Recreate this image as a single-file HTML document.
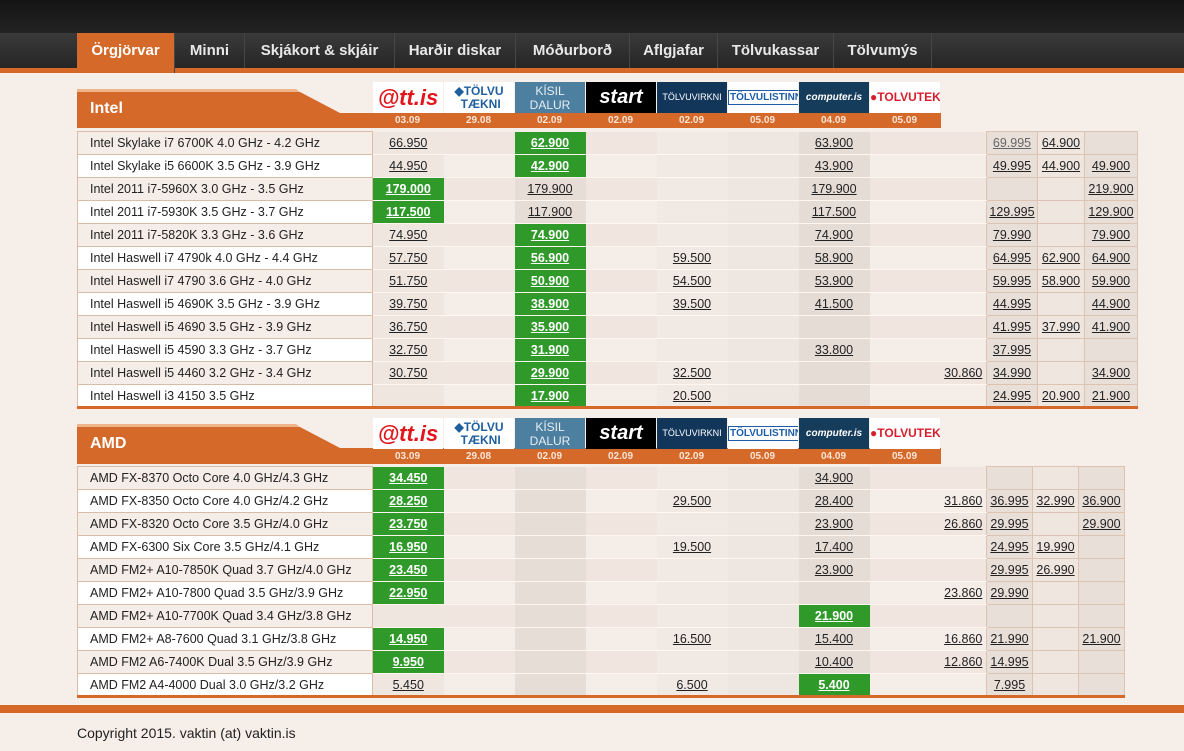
<!DOCTYPE html>
<html><head><meta charset="utf-8">
<style>
*{margin:0;padding:0;box-sizing:border-box}
body{width:1184px;height:751px;overflow:hidden;background:#f6eee8;font-family:"Liberation Sans",sans-serif;position:relative}
#top{position:absolute;left:0;top:0;width:1184px;height:33px;background:linear-gradient(#141414,#232323)}
#nav{position:absolute;left:0;top:33px;width:1184px;height:35px;background:linear-gradient(#3a3a3a,#262626)}
#navline{position:absolute;left:0;top:68px;width:1184px;height:5px;background:#d4692a}
.tab{position:absolute;top:33px;height:35px;line-height:36px;color:#e8e8e8;font-weight:bold;font-size:15px;text-align:center;border-right:1px solid #474747}
.tab.on{background:#d4692a;color:#fff;height:40px}
.logo{position:absolute;height:31px;width:70px;font-weight:bold;text-align:center;overflow:hidden;font-size:11px;line-height:31px}
.date{position:absolute;width:71px;text-align:center;color:#fbe5d6;font-size:10px;font-weight:bold;line-height:15px}
table{position:absolute;border-collapse:collapse;table-layout:fixed;font-size:12.5px;color:#222}
td{height:23px;text-align:center;padding:0;white-space:nowrap;border-bottom:1px solid #fff6f0}
td.n{text-align:left;padding-left:12px;background:#f5ede7;border:1px solid #d9bca8}
tr:nth-child(even) td.n{background:#fff}
td u{color:#222}
td.g{background:#2f9a2a;color:#fff;font-weight:bold}
td.g u{color:#fff}
.c1{background:#efe6e0}.c2{background:#f4ede8}.c3{background:#e7ddd7}.c4{background:#f4ede8}.c5{background:#f1e9e3}.c6{background:#eee6e0}.c7{background:#e5dcd6}.c8{background:#f4ede8}.c9{background:#f4ede8}
td.x{border:1px solid #dcc3b2;background:#efe6e0}
td.x.d{background:#e8dfd9}
tr:nth-child(odd) td.c2,tr:nth-child(odd) td.c4,tr:nth-child(odd) td.c8,tr:nth-child(odd) td.c9{background:#f0e6df}
tbody tr:last-child td{border-bottom:3px solid #d4692a}
#foot{position:absolute;left:0;top:705px;width:1184px;height:8px;background:#d4692a}
#copy{position:absolute;left:77px;top:725px;font-size:14px;color:#222}
</style></head><body>
<div id="top"></div><div id="nav"></div><div id="navline"></div>
<div class="tab on" style="left:77px;width:98px">Örgjörvar</div>
<div class="tab" style="left:175px;width:70px">Minni</div>
<div class="tab" style="left:245px;width:150px">Skjákort &amp; skjáir</div>
<div class="tab" style="left:395px;width:121px">Harðir diskar</div>
<div class="tab" style="left:516px;width:114px">Móðurborð</div>
<div class="tab" style="left:630px;width:88px">Aflgjafar</div>
<div class="tab" style="left:718px;width:116px">Tölvukassar</div>
<div class="tab" style="left:834px;width:98px">Tölvumýs</div>

<svg style="position:absolute;left:0;top:0" width="1184" height="751">
<polygon points="77,89 296,89 300,92 77,92" fill="#f0b48a"/>
<polygon points="77,92 300,92 340,113 941,113 941,128 77,128" fill="#d4692a"/>
<polygon points="77,424 296,424 300,427 77,427" fill="#f0b48a"/>
<polygon points="77,427 300,427 340,448 941,448 941,464 77,464" fill="#d4692a"/>
</svg>
<div style="position:absolute;left:90px;top:100px;color:#fff;font-weight:bold;font-size:16px">Intel</div>
<div style="position:absolute;left:90px;top:435px;color:#fff;font-weight:bold;font-size:16px">AMD</div>

<div class="logo" style="left:373px;top:82px;background:#fff;color:#e0161c;font-size:22px;font-style:italic">@tt.is</div>
<div class="logo" style="left:444px;top:82px;background:#fff;color:#1f5f9e;font-size:12px;line-height:13px;padding-top:3px">◆TÖLVU<br>&nbsp;TÆKNI</div>
<div class="logo" style="left:515px;top:82px;background:#4d7fa0;color:#e6eef4;font-size:12px;line-height:14px;padding-top:2px;font-weight:normal">KÍSIL<br>DALUR</div>
<div class="logo" style="left:586px;top:82px;background:#000;color:#fff;font-size:20px;font-style:italic">start</div>
<div class="logo" style="left:657px;top:82px;background:#12365a;color:#fff;font-size:9px;font-weight:normal">TÖLVUVIRKNI</div>
<div class="logo" style="left:728px;top:82px;background:#fff;color:#1c5ca8;font-size:10px"><span style="border:1px solid #1c5ca8;padding:1px">TÖLVULISTINN</span></div>
<div class="logo" style="left:799px;top:82px;background:#153c5a;color:#fff;font-size:10px;font-style:italic">computer.is</div>
<div class="logo" style="left:870px;top:82px;background:#fff;color:#d81e2a;font-size:12px">●TOLVUTEK</div>
<div class="date" style="left:372px;top:113px">03.09</div><div class="date" style="left:443px;top:113px">29.08</div><div class="date" style="left:514px;top:113px">02.09</div><div class="date" style="left:585px;top:113px">02.09</div><div class="date" style="left:656px;top:113px">02.09</div><div class="date" style="left:727px;top:113px">05.09</div><div class="date" style="left:798px;top:113px">04.09</div><div class="date" style="left:869px;top:113px">05.09</div>

<div class="logo" style="left:373px;top:418px;background:#fff;color:#e0161c;font-size:22px;font-style:italic">@tt.is</div>
<div class="logo" style="left:444px;top:418px;background:#fff;color:#1f5f9e;font-size:12px;line-height:13px;padding-top:3px">◆TÖLVU<br>&nbsp;TÆKNI</div>
<div class="logo" style="left:515px;top:418px;background:#4d7fa0;color:#e6eef4;font-size:12px;line-height:14px;padding-top:2px;font-weight:normal">KÍSIL<br>DALUR</div>
<div class="logo" style="left:586px;top:418px;background:#000;color:#fff;font-size:20px;font-style:italic">start</div>
<div class="logo" style="left:657px;top:418px;background:#12365a;color:#fff;font-size:9px;font-weight:normal">TÖLVUVIRKNI</div>
<div class="logo" style="left:728px;top:418px;background:#fff;color:#1c5ca8;font-size:10px"><span style="border:1px solid #1c5ca8;padding:1px">TÖLVULISTINN</span></div>
<div class="logo" style="left:799px;top:418px;background:#153c5a;color:#fff;font-size:10px;font-style:italic">computer.is</div>
<div class="logo" style="left:870px;top:418px;background:#fff;color:#d81e2a;font-size:12px">●TOLVUTEK</div>
<div class="date" style="left:372px;top:449px">03.09</div><div class="date" style="left:443px;top:449px">29.08</div><div class="date" style="left:514px;top:449px">02.09</div><div class="date" style="left:585px;top:449px">02.09</div><div class="date" style="left:656px;top:449px">02.09</div><div class="date" style="left:727px;top:449px">05.09</div><div class="date" style="left:798px;top:449px">04.09</div><div class="date" style="left:869px;top:449px">05.09</div>

<table style="left:77px;top:131px;width:1061px">
<colgroup><col style="width:295px"><col style="width:71px"><col style="width:71px"><col style="width:71px"><col style="width:71px"><col style="width:71px"><col style="width:71px"><col style="width:71px"><col style="width:71px"><col style="width:46px"><col style="width:51px"><col style="width:47px"><col style="width:53px"></colgroup>
<tbody>
<tr><td class="n">Intel Skylake i7 6700K 4.0 GHz - 4.2 GHz</td><td class="c1"><u>66.950</u></td><td class="c2"></td><td class="g"><u>62.900</u></td><td class="c4"></td><td class="c5"></td><td class="c6"></td><td class="c7"><u>63.900</u></td><td class="c8"></td><td class="c9"></td><td class="x d"><u style="color:#666">69.995</u></td><td class="x"><u>64.900</u></td><td class="x d"></td></tr>
<tr><td class="n">Intel Skylake i5 6600K 3.5 GHz - 3.9 GHz</td><td class="c1"><u>44.950</u></td><td class="c2"></td><td class="g"><u>42.900</u></td><td class="c4"></td><td class="c5"></td><td class="c6"></td><td class="c7"><u>43.900</u></td><td class="c8"></td><td class="c9"></td><td class="x d"><u>49.995</u></td><td class="x"><u>44.900</u></td><td class="x d"><u>49.900</u></td></tr>
<tr><td class="n">Intel 2011 i7-5960X 3.0 GHz - 3.5 GHz</td><td class="g"><u>179.000</u></td><td class="c2"></td><td class="c3"><u>179.900</u></td><td class="c4"></td><td class="c5"></td><td class="c6"></td><td class="c7"><u>179.900</u></td><td class="c8"></td><td class="c9"></td><td class="x d"></td><td class="x"></td><td class="x d"><u>219.900</u></td></tr>
<tr><td class="n">Intel 2011 i7-5930K 3.5 GHz - 3.7 GHz</td><td class="g"><u>117.500</u></td><td class="c2"></td><td class="c3"><u>117.900</u></td><td class="c4"></td><td class="c5"></td><td class="c6"></td><td class="c7"><u>117.500</u></td><td class="c8"></td><td class="c9"></td><td class="x d"><u>129.995</u></td><td class="x"></td><td class="x d"><u>129.900</u></td></tr>
<tr><td class="n">Intel 2011 i7-5820K 3.3 GHz - 3.6 GHz</td><td class="c1"><u>74.950</u></td><td class="c2"></td><td class="g"><u>74.900</u></td><td class="c4"></td><td class="c5"></td><td class="c6"></td><td class="c7"><u>74.900</u></td><td class="c8"></td><td class="c9"></td><td class="x d"><u>79.990</u></td><td class="x"></td><td class="x d"><u>79.900</u></td></tr>
<tr><td class="n">Intel Haswell i7 4790k 4.0 GHz - 4.4 GHz</td><td class="c1"><u>57.750</u></td><td class="c2"></td><td class="g"><u>56.900</u></td><td class="c4"></td><td class="c5"><u>59.500</u></td><td class="c6"></td><td class="c7"><u>58.900</u></td><td class="c8"></td><td class="c9"></td><td class="x d"><u>64.995</u></td><td class="x"><u>62.900</u></td><td class="x d"><u>64.900</u></td></tr>
<tr><td class="n">Intel Haswell i7 4790 3.6 GHz - 4.0 GHz</td><td class="c1"><u>51.750</u></td><td class="c2"></td><td class="g"><u>50.900</u></td><td class="c4"></td><td class="c5"><u>54.500</u></td><td class="c6"></td><td class="c7"><u>53.900</u></td><td class="c8"></td><td class="c9"></td><td class="x d"><u>59.995</u></td><td class="x"><u>58.900</u></td><td class="x d"><u>59.900</u></td></tr>
<tr><td class="n">Intel Haswell i5 4690K 3.5 GHz - 3.9 GHz</td><td class="c1"><u>39.750</u></td><td class="c2"></td><td class="g"><u>38.900</u></td><td class="c4"></td><td class="c5"><u>39.500</u></td><td class="c6"></td><td class="c7"><u>41.500</u></td><td class="c8"></td><td class="c9"></td><td class="x d"><u>44.995</u></td><td class="x"></td><td class="x d"><u>44.900</u></td></tr>
<tr><td class="n">Intel Haswell i5 4690 3.5 GHz - 3.9 GHz</td><td class="c1"><u>36.750</u></td><td class="c2"></td><td class="g"><u>35.900</u></td><td class="c4"></td><td class="c5"></td><td class="c6"></td><td class="c7"></td><td class="c8"></td><td class="c9"></td><td class="x d"><u>41.995</u></td><td class="x"><u>37.990</u></td><td class="x d"><u>41.900</u></td></tr>
<tr><td class="n">Intel Haswell i5 4590 3.3 GHz - 3.7 GHz</td><td class="c1"><u>32.750</u></td><td class="c2"></td><td class="g"><u>31.900</u></td><td class="c4"></td><td class="c5"></td><td class="c6"></td><td class="c7"><u>33.800</u></td><td class="c8"></td><td class="c9"></td><td class="x d"><u>37.995</u></td><td class="x"></td><td class="x d"></td></tr>
<tr><td class="n">Intel Haswell i5 4460 3.2 GHz - 3.4 GHz</td><td class="c1"><u>30.750</u></td><td class="c2"></td><td class="g"><u>29.900</u></td><td class="c4"></td><td class="c5"><u>32.500</u></td><td class="c6"></td><td class="c7"></td><td class="c8"></td><td class="c9"><u>30.860</u></td><td class="x d"><u>34.990</u></td><td class="x"></td><td class="x d"><u>34.900</u></td></tr>
<tr><td class="n">Intel Haswell i3 4150 3.5 GHz</td><td class="c1"></td><td class="c2"></td><td class="g"><u>17.900</u></td><td class="c4"></td><td class="c5"><u>20.500</u></td><td class="c6"></td><td class="c7"></td><td class="c8"></td><td class="c9"></td><td class="x d"><u>24.995</u></td><td class="x"><u>20.900</u></td><td class="x d"><u>21.900</u></td></tr>
</tbody></table>

<table style="left:77px;top:466px;width:1048px">
<colgroup><col style="width:295px"><col style="width:71px"><col style="width:71px"><col style="width:71px"><col style="width:71px"><col style="width:71px"><col style="width:71px"><col style="width:71px"><col style="width:71px"><col style="width:46px"><col style="width:46px"><col style="width:46px"><col style="width:46px"></colgroup>
<tbody>
<tr><td class="n">AMD FX-8370 Octo Core 4.0 GHz/4.3 GHz</td><td class="g"><u>34.450</u></td><td class="c2"></td><td class="c3"></td><td class="c4"></td><td class="c5"></td><td class="c6"></td><td class="c7"><u>34.900</u></td><td class="c8"></td><td class="c9"></td><td class="x d"></td><td class="x"></td><td class="x d"></td></tr>
<tr><td class="n">AMD FX-8350 Octo Core 4.0 GHz/4.2 GHz</td><td class="g"><u>28.250</u></td><td class="c2"></td><td class="c3"></td><td class="c4"></td><td class="c5"><u>29.500</u></td><td class="c6"></td><td class="c7"><u>28.400</u></td><td class="c8"></td><td class="c9"><u>31.860</u></td><td class="x d"><u>36.995</u></td><td class="x"><u>32.990</u></td><td class="x d"><u>36.900</u></td></tr>
<tr><td class="n">AMD FX-8320 Octo Core 3.5 GHz/4.0 GHz</td><td class="g"><u>23.750</u></td><td class="c2"></td><td class="c3"></td><td class="c4"></td><td class="c5"></td><td class="c6"></td><td class="c7"><u>23.900</u></td><td class="c8"></td><td class="c9"><u>26.860</u></td><td class="x d"><u>29.995</u></td><td class="x"></td><td class="x d"><u>29.900</u></td></tr>
<tr><td class="n">AMD FX-6300 Six Core 3.5 GHz/4.1 GHz</td><td class="g"><u>16.950</u></td><td class="c2"></td><td class="c3"></td><td class="c4"></td><td class="c5"><u>19.500</u></td><td class="c6"></td><td class="c7"><u>17.400</u></td><td class="c8"></td><td class="c9"></td><td class="x d"><u>24.995</u></td><td class="x"><u>19.990</u></td><td class="x d"></td></tr>
<tr><td class="n">AMD FM2+ A10-7850K Quad 3.7 GHz/4.0 GHz</td><td class="g"><u>23.450</u></td><td class="c2"></td><td class="c3"></td><td class="c4"></td><td class="c5"></td><td class="c6"></td><td class="c7"><u>23.900</u></td><td class="c8"></td><td class="c9"></td><td class="x d"><u>29.995</u></td><td class="x"><u>26.990</u></td><td class="x d"></td></tr>
<tr><td class="n">AMD FM2+ A10-7800 Quad 3.5 GHz/3.9 GHz</td><td class="g"><u>22.950</u></td><td class="c2"></td><td class="c3"></td><td class="c4"></td><td class="c5"></td><td class="c6"></td><td class="c7"></td><td class="c8"></td><td class="c9"><u>23.860</u></td><td class="x d"><u>29.990</u></td><td class="x"></td><td class="x d"></td></tr>
<tr><td class="n">AMD FM2+ A10-7700K Quad 3.4 GHz/3.8 GHz</td><td class="c1"></td><td class="c2"></td><td class="c3"></td><td class="c4"></td><td class="c5"></td><td class="c6"></td><td class="g"><u>21.900</u></td><td class="c8"></td><td class="c9"></td><td class="x d"></td><td class="x"></td><td class="x d"></td></tr>
<tr><td class="n">AMD FM2+ A8-7600 Quad 3.1 GHz/3.8 GHz</td><td class="g"><u>14.950</u></td><td class="c2"></td><td class="c3"></td><td class="c4"></td><td class="c5"><u>16.500</u></td><td class="c6"></td><td class="c7"><u>15.400</u></td><td class="c8"></td><td class="c9"><u>16.860</u></td><td class="x d"><u>21.990</u></td><td class="x"></td><td class="x d"><u>21.900</u></td></tr>
<tr><td class="n">AMD FM2 A6-7400K Dual 3.5 GHz/3.9 GHz</td><td class="g"><u>9.950</u></td><td class="c2"></td><td class="c3"></td><td class="c4"></td><td class="c5"></td><td class="c6"></td><td class="c7"><u>10.400</u></td><td class="c8"></td><td class="c9"><u>12.860</u></td><td class="x d"><u>14.995</u></td><td class="x"></td><td class="x d"></td></tr>
<tr><td class="n">AMD FM2 A4-4000 Dual 3.0 GHz/3.2 GHz</td><td class="c1"><u>5.450</u></td><td class="c2"></td><td class="c3"></td><td class="c4"></td><td class="c5"><u>6.500</u></td><td class="c6"></td><td class="g"><u>5.400</u></td><td class="c8"></td><td class="c9"></td><td class="x d"><u>7.995</u></td><td class="x"></td><td class="x d"></td></tr>
</tbody></table>

<div id="foot"></div>
<div id="copy">Copyright 2015. vaktin (at) vaktin.is</div>
</body></html>
